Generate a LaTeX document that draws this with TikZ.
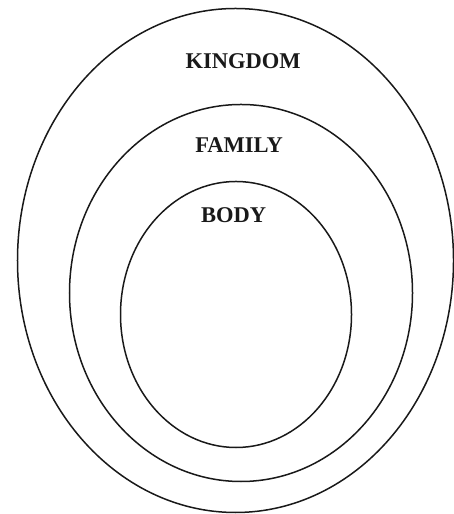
\documentclass[tikz,border=0pt]{standalone}
\usepackage{fontspec}
\setmainfont{Liberation Serif}
\usetikzlibrary{shapes.geometric}
\begin{document}
\begin{tikzpicture}[x=1bp,y=1bp,
  ring/.style={ellipse,draw,line width=1.5bp,inner sep=0pt,color=black!90},
  lbl/.style={anchor=base,inner sep=0pt,font=\fontsize{22.5bp}{26bp}\selectfont\bfseries,text=black!90}]
\useasboundingbox (0,0) rectangle (454,514);
\node[ring,minimum width=436bp,minimum height=504bp] (kingdom) at (235.5,253.5) {};
\node[ring,minimum width=343bp,minimum height=377bp] (family) at (241,221) {};
\node[ring,minimum width=231bp,minimum height=266bp] (body) at (236,199.5) {};
\node[lbl] (tk) at (243,445) {KINGDOM};
\node[lbl] (tf) at (239,361) {FAMILY};
\node[lbl] (tb) at (233.5,291) {BODY};
\end{tikzpicture}
\end{document}
